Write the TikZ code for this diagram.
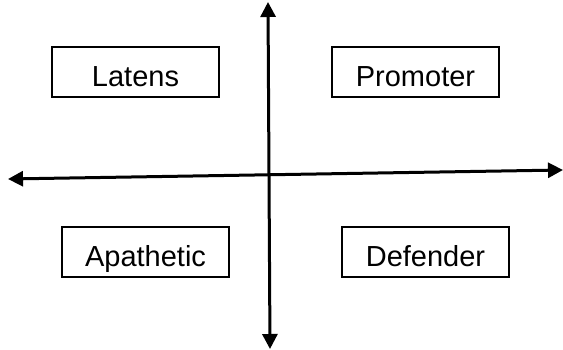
\documentclass[tikz,border=0pt]{standalone}
\usepackage{fontspec}
\setmainfont{Liberation Sans}
\usetikzlibrary{arrows.meta}

\begin{document}
\begin{tikzpicture}[x=1pt,y=-1pt]

        \useasboundingbox (0,0) rectangle (563,350);

        \begin{scope}[every node/.style={draw, line width=1.2pt, minimum width=167pt, minimum height=50pt, inner sep=0pt, text height=30pt, text depth=0pt, font=\fontsize{29}{31}\selectfont}]
          \node (latens)    at (135.5,72)  {Latens};
          \node (promoter)  at (415.5,72)  {Promoter};
          \node (apathetic) at (145.5,252) {Apathetic};
          \node (defender)  at (425.5,252) {Defender};
        \end{scope}

        \coordinate (top)    at (268,2);
        \coordinate (bottom) at (270,349);
        \coordinate (left)   at (8,179);
        \coordinate (right)  at (563,170);

        \begin{scope}[line width=3pt, {Triangle[length=15pt,width=15pt]}-{Triangle[length=15pt,width=15pt]}]
          \draw (bottom) -- (top);
          \draw (left) -- (right);
        \end{scope}

      \end{tikzpicture}
\end{document}
